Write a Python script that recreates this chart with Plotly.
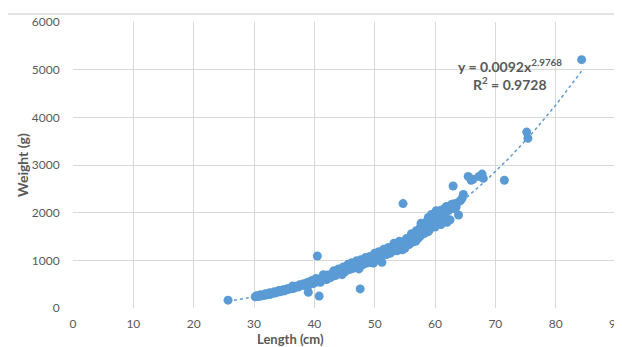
import numpy as np
import plotly.graph_objects as go

# Fish length (cm) and weight (g)
length_cm = [
    25.7,
    30.2, 30.5, 30.8, 31.0, 31.3, 31.5, 31.8, 32.0, 32.2, 32.5, 32.7, 33.0, 33.2, 33.5, 33.8, 34.0, 34.3, 34.6, 34.9, 35.1,
    30.4, 31.1, 31.9, 32.6, 33.4, 34.1, 34.8, 35.5, 36.1, 36.9, 37.5, 38.2, 38.9, 39.6,
    35.4, 35.7, 36.0, 36.2, 36.5, 36.8, 37.0, 37.3, 37.6, 37.9, 38.1, 38.4, 38.7, 39.0, 39.2, 39.5, 39.8, 40.0, 40.2, 40.4,
    40.6, 40.9, 41.1, 41.4, 41.7, 42.0, 42.2, 42.5, 42.8, 43.0, 43.3, 43.6, 43.9, 44.1, 44.4, 44.7, 45.0, 45.2, 45.5, 45.8,
    41.0, 41.9, 42.7, 43.5, 44.3, 45.1, 45.9,
    46.0, 46.3, 46.6, 46.9, 47.2, 47.5, 47.8, 48.1, 48.4, 48.7, 49.0, 49.3, 49.6, 49.9, 50.2, 50.5, 50.8, 51.0, 51.2,
    46.4, 47.1, 47.9, 48.8, 49.5, 50.4,
    51.3, 51.6, 51.9, 52.2, 52.5, 52.8, 53.1, 53.3, 53.6, 53.9, 54.2, 54.5, 54.8, 55.0, 55.2, 55.5, 55.8, 56.0, 55.0, 54.6,
    52.0, 53.0, 54.0, 55.4,
    56.3, 56.5, 56.8, 57.0, 57.2, 57.4, 57.6, 57.8, 58.0, 58.3, 58.5, 58.7, 59.0, 59.2, 59.5, 59.7, 59.9, 60.1, 60.3, 60.5,
    56.8, 57.5, 58.2, 59.0, 60.0, 56.2, 57.1, 58.9, 59.4,
    60.8, 61.0, 61.3, 61.5, 61.8, 62.0, 62.3, 62.5, 62.8, 63.0, 63.3, 63.6, 63.9, 64.2, 64.5, 64.7, 62.0, 61.0,
    # extra points that thicken the band
    36.4, 37.7, 38.6, 39.4, 40.3, 41.5, 42.4, 43.2, 44.0, 44.8, 45.6, 46.2, 47.0, 47.7, 48.5, 49.2, 50.0, 50.7,
    51.5, 52.3, 53.2, 54.1, 55.3, 56.1, 56.9, 57.7, 58.6, 59.3, 60.2, 61.2, 61.9, 62.7, 63.5,
    42.1, 44.6, 47.4, 49.8, 52.6, 53.7, 55.7, 57.3, 58.8, 60.6, 61.6,
    # outliers and isolated fish
    63.0, 65.5, 66.0, 66.3, 67.3, 67.8, 68.0, 71.5, 75.2, 75.4, 84.3,
    54.7, 40.5, 40.8, 47.6, 39.0,
]
weight_g = [
    165,
    235, 250, 240, 260, 255, 270, 265, 290, 280, 300, 285, 310, 320, 315, 330, 345, 340, 360, 355, 375,
    255, 280, 300, 320, 340, 365, 385, 405, 425, 455, 480, 510, 540, 575,
    380, 395, 400, 420, 410, 430, 445, 440, 465, 470, 490, 480, 505, 470, 520, 540, 510, 560, 590, 545,
    600, 580, 620, 640, 610, 660, 690, 650, 700, 720, 690, 740, 760, 730, 790, 820, 780, 850, 830, 870,
    540, 600, 640, 680, 720, 760, 810,
    880, 860, 900, 880, 920, 900, 940, 960, 930, 990, 1000, 960, 1030, 1050, 1010, 1100, 1080, 1130, 960,
    830, 860, 900, 950, 1000, 1060,
    1150, 1120, 1180, 1200, 1170, 1240, 1260, 1220, 1300, 1280, 1330, 1350, 1310, 1400, 1380, 1440, 1420, 1480, 1250, 1220,
    1120, 1200, 1240, 1330,
    1520, 1460, 1560, 1600, 1540, 1650, 1700, 1620, 1680, 1750, 1800, 1720, 1760, 1850, 1900, 1820, 1950, 1880, 2000, 1920,
    1400, 1500, 1560, 1620, 1700, 1380, 1450, 1900, 1960,
    1960, 2050, 1900, 2080, 2000, 2100, 2050, 1850, 2150, 2180, 2080, 2200, 1950, 2250, 2300, 2380, 1800, 1750,
    460, 490, 470, 560, 620, 700, 670, 780, 820, 860, 920, 950, 990, 1010, 1060, 1080, 1150, 1180,
    1230, 1270, 1360, 1400, 1460, 1560, 1620, 1780, 1640, 1860, 2040, 1990, 2130, 2170, 2120,
    600, 700, 820, 940, 1150, 1200, 1330, 1480, 1600, 1850, 1900,
    2560, 2760, 2680, 2700, 2760, 2810, 2720, 2680, 3690, 3560, 5210,
    2190, 1090, 250, 400, 330,
]

# Power trendline shown on the chart
trend_coef = 0.0092
trend_exp = 2.9768
trend_label = "<b>y = 0.0092x<sup>2.9768</sup></b>"
r2_label = "<b>R<sup>2</sup> = 0.9728</b>"

x_ticks = [0, 10, 20, 30, 40, 50, 60, 70, 80, 90]
y_ticks = [0, 1000, 2000, 3000, 4000, 5000, 6000]

blue = "#5b9bd5"
grey_text = "#595959"
grid = "#d9d9d9"
font_family = "Lato, 'Open Sans', sans-serif"

tx = np.linspace(min(length_cm), max(length_cm), 200)
ty = trend_coef * tx ** trend_exp

fig = go.Figure()
fig.add_trace(go.Scatter(
    x=length_cm, y=weight_g, mode="markers",
    marker=dict(color=blue, size=9, line=dict(width=0)),
    showlegend=False, hoverinfo="x+y",
))
fig.add_trace(go.Scatter(
    x=tx, y=ty, mode="lines",
    line=dict(color=blue, width=1.5, dash="dot"),
    showlegend=False, hoverinfo="skip",
))

fig.add_annotation(x=72.4, y=5084, text=trend_label, showarrow=False,
                   font=dict(family=font_family, size=14, color=grey_text),
                   xanchor="center", yanchor="middle")
fig.add_annotation(x=72.4, y=4706, text=r2_label, showarrow=False,
                   font=dict(family=font_family, size=14, color=grey_text),
                   xanchor="center", yanchor="middle")

# axis titles
fig.add_annotation(xref="paper", yref="paper", x=0.40, y=-0.108,
                   text="<b>Length (cm)</b>", showarrow=False,
                   font=dict(family=font_family, size=13, color=grey_text),
                   xanchor="center", yanchor="middle")
fig.add_annotation(xref="paper", yref="paper", x=-0.094, y=0.5,
                   text="<b>Weight (g)</b>", showarrow=False, textangle=-90,
                   font=dict(family=font_family, size=14, color=grey_text),
                   xanchor="center", yanchor="middle")

fig.add_shape(type="line", xref="paper", yref="paper",
              x0=-0.12, x1=1.011, y0=1.028, y1=1.028,
              line=dict(color=grid, width=1.5))

fig.update_layout(
    width=614, height=339,
    margin=dict(l=65, r=6, t=14, b=39),
    paper_bgcolor="white", plot_bgcolor="white",
    font=dict(family=font_family, size=12, color=grey_text),
    xaxis=dict(
        range=[0, 90], tickvals=x_ticks, ticktext=[str(v) for v in x_ticks],
        showgrid=True, gridcolor=grid, gridwidth=1, zeroline=False,
        showline=False, ticks="outside", ticklen=5, tickcolor="rgba(0,0,0,0)",
        tickfont=dict(size=12, color=grey_text), automargin=False,
        ticklabeloverflow="allow",
    ),
    yaxis=dict(
        range=[0, 6000], tickvals=y_ticks, ticktext=[str(v) for v in y_ticks],
        showgrid=True, gridcolor=grid, gridwidth=1, zeroline=False,
        showline=False, ticks="outside", ticklen=10, tickcolor="rgba(0,0,0,0)",
        tickfont=dict(size=12, color=grey_text), automargin=False,
    ),
)
fig.write_html("out.html")
